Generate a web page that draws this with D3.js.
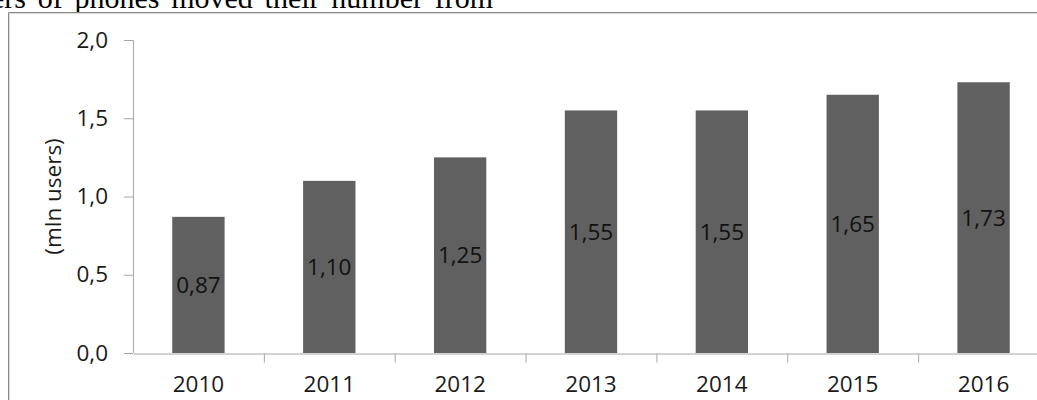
<!DOCTYPE html>
<html lang="en">
<head>
    <meta charset="UTF-8">
    <title>Mobile users by year</title>
    <script src="https://d3js.org/d3.v7.min.js"></script>
    <style>
        body {
            margin: 0;
            background: #fff;
        }
        svg {
            display: block;
        }
        .axis-label {
            font-family: "Open Sans", sans-serif;
            font-size: 22.5px;
            fill: #1a1a1a;
        }
        .bar {
            fill: #606060;
        }
        .value-label {
            font-family: "Open Sans", sans-serif;
            font-size: 22.5px;
            fill: #111;
        }
        .page-text {
            font-family: "Liberation Serif", "Times New Roman", serif;
            font-size: 30px;
            fill: #000;
        }
    </style>
</head>
<body>

<svg id="chart" width="1037" height="400"></svg>

<script>
    const years = ["2010", "2011", "2012", "2013", "2014", "2015", "2016"];
    const users = [0.87, 1.10, 1.25, 1.55, 1.55, 1.65, 1.73];
    const yTicks = [0, 0.5, 1.0, 1.5, 2.0];
    const yTitle = "(mln users)";
    const pageLine = "ers of phones moved their number from";

    const width = 1037, height = 400;
    const margin = {top: 40, right: -12, bottom: 47, left: 133};

    const svg = d3.select("#chart");
    const comma = d => d3.format(".1f")(d).replace(".", ",");
    const comma2 = d => d3.format(".2f")(d).replace(".", ",");

    // clipped line of the surrounding document
    const textStart = -9, textEnd = 493;
    const txt = svg.append("text")
        .attr("class", "page-text")
        .attr("x", textStart)
        .attr("y", 8)
        .text(pageLine);
    const natural = txt.node().getComputedTextLength();
    const gaps = pageLine.split(" ").length - 1;
    txt.attr("word-spacing", Math.max(0, (textEnd - textStart - natural) / gaps));

    // chart frame (runs off the right and bottom edges)
    svg.append("path")
        .attr("d", `M8.5,${height + 5}V12.5H${width + 5}`)
        .attr("fill", "none")
        .attr("stroke", "#8a8a8a");
    svg.append("path")
        .attr("d", `M9.5,${height + 5}V13.5H${width + 5}`)
        .attr("fill", "none")
        .attr("stroke", "#d9d9d9");

    const x = d3.scaleBand()
        .domain(years)
        .range([margin.left, width - margin.right])
        .padding(0);

    const y = d3.scaleLinear()
        .domain([0, 2])
        .range([height - margin.bottom, margin.top]);

    // y axis
    const yAxis = svg.append("g")
        .attr("transform", `translate(${margin.left},0)`)
        .call(d3.axisLeft(y).tickValues(yTicks).tickFormat(comma).tickSize(9).tickPadding(16));
    yAxis.selectAll("line, path").attr("stroke", "#a6a6a6");
    yAxis.select(".domain").attr("d", `M-9,${y(2) + 0.5}H0.5V${y(0)}`);
    yAxis.selectAll("text").attr("class", "axis-label").attr("font-family", null).attr("font-size", null);

    // x axis: labels centred, ticks between categories
    const xAxis = svg.append("g")
        .attr("transform", `translate(0,${y(0) + 0.5})`)
        .call(d3.axisBottom(x).tickSize(0).tickPadding(27));
    xAxis.select(".domain").attr("stroke", "#a6a6a6");
    xAxis.selectAll("text").attr("class", "axis-label").attr("font-family", null).attr("font-size", null)
        .attr("dy", "0.5em");
    xAxis.selectAll(".sep")
        .data(years.slice(1).concat(["end"]))
        .enter()
        .append("line")
        .attr("class", "sep")
        .attr("x1", d => (d === "end" ? x.range()[1] : x(d)) + 0.5)
        .attr("x2", d => (d === "end" ? x.range()[1] : x(d)) + 0.5)
        .attr("y1", 0)
        .attr("y2", 9)
        .attr("stroke", "#a6a6a6");

    // bars
    const barW = x.bandwidth() * 0.4;
    svg.selectAll(".bar")
        .data(users)
        .enter()
        .append("rect")
        .attr("class", "bar")
        .attr("x", (d, i) => x(years[i]) + (x.bandwidth() - barW) / 2)
        .attr("y", d => y(d))
        .attr("width", barW)
        .attr("height", d => y(0) - y(d));

    // value labels, centred in each bar
    svg.selectAll(".value-label")
        .data(users)
        .enter()
        .append("text")
        .attr("class", "value-label")
        .attr("x", (d, i) => x(years[i]) + x.bandwidth() / 2)
        .attr("y", d => (y(d) + y(0)) / 2)
        .attr("text-anchor", "middle")
        .attr("dy", "0.35em")
        .text(comma2);

    // y axis title
    svg.append("text")
        .attr("class", "axis-label")
        .attr("transform", `translate(61,${(y(0) + y(2)) / 2}) rotate(-90)`)
        .attr("text-anchor", "middle")
        .text(yTitle);
</script>

</body>
</html>
